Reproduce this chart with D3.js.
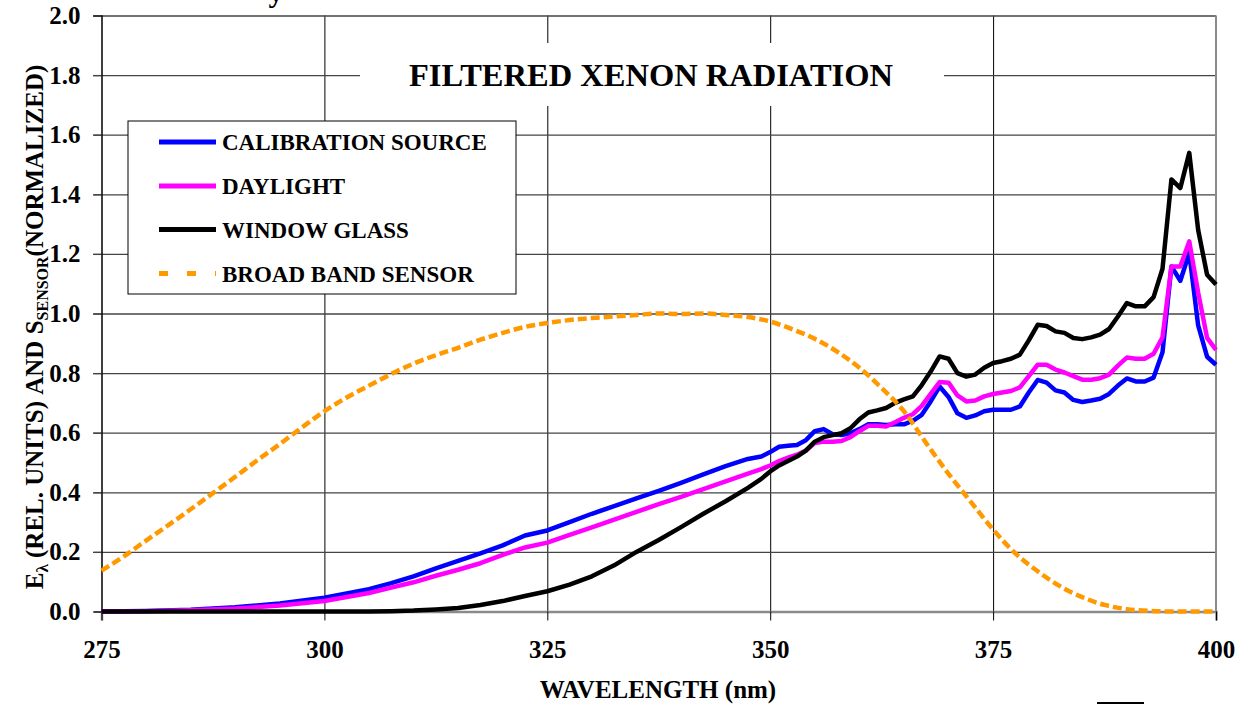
<!DOCTYPE html>
<html><head><meta charset="utf-8">
<script src="https://cdn.jsdelivr.net/npm/d3@7"></script>
<style>
html,body{margin:0;padding:0;background:#fff;}
svg{display:block;font-family:"Liberation Serif","Times New Roman",serif;font-weight:bold;}
</style></head><body>
<svg id="chart" width="1242" height="704"></svg>
<script>
// ---------------- DATA ----------------
const wavelengths = [275,280,285,290,295,300,305,307.5,310,312.5,315,317.5,320,322.5,325,327.5,330,332.5,335,337.5,340,342.5,345,347.5,
  349,350,351,352,353,354,355,356,357,358,359,360,361,362,363,364,365,366,367,368,369,370,371,372,373,374,375,
  376,377,378,379,380,381,382,383,384,385,386,387,388,389,390,391,392,393,394,395,396,397,398,399,400];

const calibration = [0,0.002,0.006,0.014,0.027,0.046,0.075,0.095,0.118,0.145,0.17,0.195,0.222,0.255,0.272,0.30,0.328,0.354,0.38,0.405,0.432,0.46,0.488,0.512,
  0.52,0.535,0.553,0.556,0.559,0.575,0.605,0.612,0.595,0.592,0.598,0.612,0.628,0.628,0.626,0.628,0.628,0.64,0.66,0.705,0.755,0.72,0.665,0.65,0.658,0.672,0.677,
  0.677,0.677,0.688,0.735,0.777,0.768,0.742,0.735,0.71,0.703,0.708,0.714,0.73,0.758,0.782,0.772,0.772,0.785,0.87,1.158,1.11,1.203,0.96,0.855,0.828];

const daylight = [0,0.001,0.004,0.01,0.02,0.035,0.062,0.08,0.098,0.12,0.14,0.162,0.19,0.215,0.231,0.257,0.282,0.308,0.334,0.36,0.385,0.411,0.437,0.463,
  0.478,0.49,0.505,0.516,0.526,0.54,0.565,0.57,0.57,0.572,0.585,0.605,0.623,0.623,0.621,0.635,0.65,0.662,0.69,0.73,0.77,0.768,0.725,0.705,0.708,0.722,0.73,
  0.735,0.74,0.752,0.79,0.828,0.828,0.812,0.802,0.79,0.778,0.778,0.783,0.795,0.825,0.852,0.848,0.848,0.865,0.92,1.158,1.158,1.242,1.07,0.918,0.878];

const windowGlass = [0,0,0,0,0,0,0,0.001,0.003,0.007,0.012,0.022,0.035,0.052,0.068,0.09,0.118,0.155,0.2,0.24,0.283,0.328,0.37,0.415,
  0.445,0.47,0.49,0.505,0.52,0.54,0.57,0.585,0.592,0.598,0.615,0.645,0.668,0.675,0.683,0.7,0.712,0.722,0.76,0.805,0.856,0.848,0.8,0.788,0.795,0.818,0.834,
  0.84,0.848,0.862,0.91,0.962,0.958,0.94,0.935,0.918,0.914,0.92,0.929,0.948,0.99,1.035,1.024,1.024,1.055,1.15,1.45,1.421,1.539,1.28,1.13,1.097];

const sensorWavelengths = [275,277.5,280,282.5,285,287.5,290,292.5,295,297.5,300,302.5,305,307.5,310,312.5,315,317.5,320,322.5,325,327.5,330,332.5,335,
  337.5,340,342.5,345,347.5,350,352.5,355,357.5,360,362.5,365,367.5,370,372.5,375,377.5,380,382.5,385,387.5,390,392.5,395,397.5,400];
const sensor = [0.137,0.185,0.238,0.29,0.343,0.397,0.452,0.508,0.562,0.618,0.672,0.718,0.758,0.797,0.832,0.86,0.885,0.912,0.935,0.955,0.968,0.978,0.985,0.99,0.995,
  1.0,0.998,1.0,0.995,0.988,0.973,0.947,0.915,0.872,0.818,0.75,0.672,0.565,0.462,0.368,0.275,0.195,0.135,0.085,0.048,0.022,0.008,0.002,0,0,0];

const xTicks = [275,300,325,350,375,400];
const yTicks = [0,0.2,0.4,0.6,0.8,1.0,1.2,1.4,1.6,1.8,2.0];
const seriesNames = ["CALIBRATION SOURCE","DAYLIGHT","WINDOW GLASS","BROAD BAND SENSOR"];
const seriesColors = ["#0000FF","#FF00FF","#000000","#FF9900"];
const chartTitle = "FILTERED XENON RADIATION";
const xTitle = "WAVELENGTH (nm)";

// ---------------- CHART ----------------
const svg = d3.select("#chart");
const x = d3.scaleLinear().domain([275,400]).range([101.5,1216]);
const y = d3.scaleLinear().domain([0,2]).range([611.5,15.5]);

// clipped title fragment at the very top (as in the reference)
svg.append("text").attr("x",276).attr("y",2).attr("text-anchor","middle")
  .attr("font-size",30).text("y");

// vertical gridlines
const gx = svg.append("g").attr("transform","translate(0,15.5)")
  .call(d3.axisBottom(x).tickValues(xTicks.filter(d=>d>275 && d<400)).tickSize(596).tickFormat(""));
gx.select(".domain").remove();
gx.selectAll("line").attr("stroke","#000").attr("stroke-width",1);

// horizontal gridlines
const gy = svg.append("g").attr("transform","translate(1216,0)")
  .call(d3.axisLeft(y).tickValues(yTicks.filter(d=>d>0)).tickSize(1123).tickFormat(""));
gy.select(".domain").remove();
gy.selectAll("line").attr("stroke","#444").attr("stroke-width",1.3);

// right border
svg.append("line").attr("x1",x(400)).attr("x2",x(400)).attr("y1",y(2)).attr("y2",y(0))
  .attr("stroke","#8a8a8a").attr("stroke-width",2);

// title box
svg.append("rect").attr("x",360).attr("y",43).attr("width",584).attr("height",63).attr("fill","#fff");
svg.append("text").attr("x",651).attr("y",86).attr("text-anchor","middle")
  .attr("font-size",32.5).text(chartTitle);

// x axis
const ax = svg.append("g").attr("transform",`translate(0,${y(0)})`)
  .call(d3.axisBottom(x).tickValues(xTicks).tickSize(9).tickFormat(d3.format("d")));
ax.select(".domain").attr("stroke","#8a8a8a").attr("stroke-width",2.5);
ax.selectAll("line").attr("stroke","#000").attr("stroke-width",1);
ax.selectAll("text").attr("y",46.5).attr("dy",null).attr("font-size",25)
  .attr("font-family",'"Liberation Serif",serif').attr("font-weight","bold").attr("fill","#000");

// y axis
const ay = svg.append("g").attr("transform",`translate(${x(275)},0)`)
  .call(d3.axisLeft(y).tickValues(yTicks).tickSize(8).tickPadding(13).tickFormat(d3.format(".1f")));
ay.select(".domain").attr("stroke","#000").attr("stroke-width",1.5);
ay.selectAll("line").attr("stroke","#444").attr("stroke-width",1.3);
ay.selectAll("text").attr("font-size",25).attr("font-family",'"Liberation Serif",serif')
  .attr("font-weight","bold").attr("fill","#000");

// axis titles
svg.append("text").attr("x",658).attr("y",698).attr("text-anchor","middle")
  .attr("font-size",25).text(xTitle);

const yt = svg.append("text").attr("text-anchor","middle").attr("font-size",25)
  .attr("transform","translate(43,327) rotate(-90)");
yt.append("tspan").text("E");
yt.append("tspan").attr("font-size",17).attr("dy",5).text("λ");
yt.append("tspan").attr("dy",-5).text(" (REL. UNITS) AND S");
yt.append("tspan").attr("font-size",16).attr("dy",5).text("SENSOR");
yt.append("tspan").attr("dy",-5).text("(NORMALIZED)");

// series
const line = d3.line().x(d=>x(d[0])).y(d=>y(d[1]));
const series = [
  {vals: calibration, wl: wavelengths, color: seriesColors[0]},
  {vals: daylight, wl: wavelengths, color: seriesColors[1]},
  {vals: windowGlass, wl: wavelengths, color: seriesColors[2]},
];
series.forEach(s=>{
  svg.append("path").datum(s.wl.map((w,i)=>[w,s.vals[i]]))
    .attr("d",line).attr("fill","none").attr("stroke",s.color)
    .attr("stroke-width",4.5).attr("stroke-linejoin","round");
});
svg.append("path").datum(sensorWavelengths.map((w,i)=>[w,sensor[i]]))
  .attr("d",d3.line().x(d=>x(d[0])).y(d=>y(d[1])).curve(d3.curveMonotoneX))
  .attr("fill","none").attr("stroke",seriesColors[3]).attr("stroke-width",4.5)
  .attr("stroke-dasharray","9,4");

// legend
const lg = svg.append("g");
lg.append("rect").attr("x",128).attr("y",121).attr("width",388).attr("height",173)
  .attr("fill","#fff").attr("stroke","#000").attr("stroke-width",1);
const legendY = [142,186,229.5,273.5];
seriesNames.forEach((n,i)=>{
  lg.append("line").attr("x1",159).attr("x2",216).attr("y1",legendY[i]).attr("y2",legendY[i])
    .attr("stroke",seriesColors[i]).attr("stroke-width",5)
    .attr("stroke-dasharray", i===3 ? "9,19" : null);
  lg.append("text").attr("x",222).attr("y",legendY[i]+8).attr("font-size",23).text(n);
});

// small mark at bottom right
svg.append("line").attr("x1",1097).attr("x2",1144).attr("y1",703).attr("y2",703)
  .attr("stroke","#000").attr("stroke-width",2);
</script>
</body></html>
